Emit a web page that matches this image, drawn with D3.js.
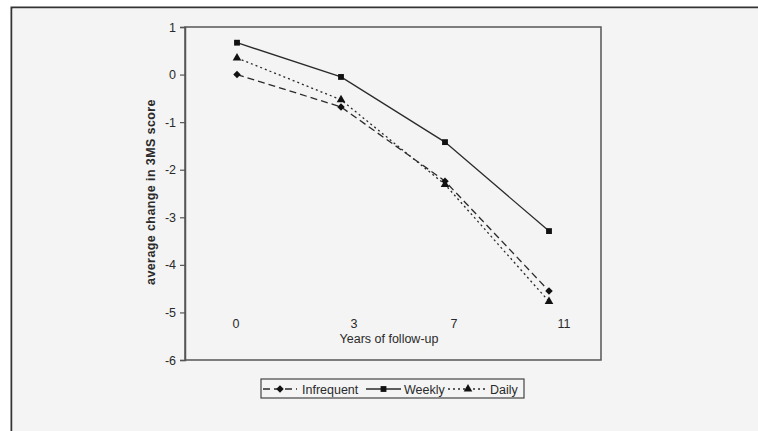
<!DOCTYPE html>
<html>
<head>
<meta charset="utf-8">
<script src="https://cdn.jsdelivr.net/npm/d3@7"></script>
<style>
    html, body { margin: 0; padding: 0; background: #ffffff; overflow: hidden; }
    svg { display: block; overflow: hidden; font-family: "Liberation Sans", Arial, sans-serif; }
</style>
</head>
<body>
<div id="chart"></div>
<script>
/*
 * Chart data.
 */
var periods = ['0', '3', '7', '11'];
var infrequent = [0.0, -0.68, -2.24, -4.55];
var weekly = [0.67, -0.05, -1.42, -3.29];
var daily = [0.35, -0.53, -2.31, -4.77];
var yTicks = [1, 0, -1, -2, -3, -4, -5, -6];

/*
 * Series styles. Excel's diamond is a square turned by 45 degrees.
 */
var series = [
    {name: 'Infrequent', values: infrequent, dash: '7,4', marker: d3.symbolSquare, size: 28, rotate: 45},
    {name: 'Weekly', values: weekly, dash: null, marker: d3.symbolSquare, size: 34, rotate: 0},
    {name: 'Daily', values: daily, dash: '2,3', marker: d3.symbolTriangle, size: 32, rotate: 0}
];

/*
 * Horizontal nudge of each year label, as placed in the original figure.
 */
var labelShift = [-1, 13, 9, 15];

var width = 758, height = 431;
var plot = {left: 185, right: 601, top: 27, bottom: 360};
var ink = '#2a2a2a';

var svg = d3.select('#chart').append('svg')
    .attr('width', width)
    .attr('height', height);

/*
 * Page frame (only its top and left edges fall inside the picture).
 */
svg.append('path')
    .attr('d', 'M11.5,' + height + 'V7.5H' + width)
    .attr('fill', 'none')
    .attr('stroke', '#333')
    .attr('stroke-width', 2);

svg.append('rect')
    .attr('x', 12.5).attr('y', 8.5)
    .attr('width', width).attr('height', height)
    .attr('fill', '#f4f4f4');

/*
 * Scales.
 */
var x = d3.scaleBand()
    .domain(periods)
    .range([plot.left, plot.right]);

var y = d3.scaleLinear()
    .domain([-6, 1])
    .range([plot.bottom, plot.top]);

/*
 * Plot area border.
 */
svg.append('rect')
    .attr('x', plot.left).attr('y', plot.top)
    .attr('width', plot.right - plot.left)
    .attr('height', plot.bottom - plot.top)
    .attr('fill', 'none')
    .attr('stroke', '#555')
    .attr('stroke-width', 1.5);

/*
 * Y axis.
 */
var yAxis = svg.append('g')
    .attr('transform', 'translate(' + plot.left + ',0)')
    .call(d3.axisLeft(y).tickValues(yTicks).tickSize(5).tickPadding(4).tickFormat(d => String(d)));

yAxis.select('.domain').attr('stroke', '#555').attr('stroke-width', 1.5);
yAxis.selectAll('.tick line').attr('stroke', '#555').attr('stroke-width', 1.2);
yAxis.selectAll('.tick text')
    .attr('fill', ink)
    .style('font-size', '12.5px')
    .style('font-family', '"Liberation Sans", Arial, sans-serif');

/*
 * Year labels inside the plot.
 */
svg.append('g').selectAll('text')
    .data(periods)
    .join('text')
    .attr('x', (d, i) => x(d) + x.bandwidth() / 2 + labelShift[i])
    .attr('y', 328)
    .attr('text-anchor', 'middle')
    .attr('fill', ink)
    .style('font-size', '12.5px')
    .text(d => d);

/*
 * Axis titles.
 */
svg.append('text')
    .attr('x', 389).attr('y', 343)
    .attr('text-anchor', 'middle')
    .attr('fill', ink)
    .style('font-size', '12.5px')
    .text('Years of follow-up');

svg.append('text')
    .attr('transform', 'translate(155,192) rotate(-90)')
    .attr('text-anchor', 'middle')
    .attr('fill', ink)
    .style('font-size', '12.5px')
    .style('font-weight', 'bold')
    .style('letter-spacing', '0.4px')
    .text('average change in 3MS score');

/*
 * Lines and markers.
 */
var cx = (d, i) => x(periods[i]) + x.bandwidth() / 2;
var line = d3.line()
    .x(cx)
    .y(d => y(d));

series.forEach(function(s) {
    svg.append('path')
        .datum(s.values)
        .attr('d', line)
        .attr('fill', 'none')
        .attr('stroke', ink)
        .attr('stroke-width', 1.3)
        .attr('stroke-dasharray', s.dash);

    svg.append('g').selectAll('path')
        .data(s.values)
        .join('path')
        .attr('transform', (d, i) => 'translate(' + cx(d, i) + ',' + y(d) + ') rotate(' + s.rotate + ')')
        .attr('d', d3.symbol().type(s.marker).size(s.size))
        .attr('fill', '#111');
});

/*
 * Legend.
 */
var legend = svg.append('g');

legend.append('rect')
    .attr('x', 261).attr('y', 379)
    .attr('width', 263).attr('height', 19)
    .attr('fill', '#f4f4f4')
    .attr('stroke', '#444')
    .attr('stroke-width', 1.2);

var legendItems = [
    {x0: 263, x1: 297, tx: 302},
    {x0: 366, x1: 401, tx: 404},
    {x0: 448, x1: 488, tx: 490}
];

series.forEach(function(s, i) {
    var item = legendItems[i];
    legend.append('line')
        .attr('x1', item.x0).attr('x2', item.x1)
        .attr('y1', 389).attr('y2', 389)
        .attr('stroke', ink)
        .attr('stroke-width', 1.5)
        .attr('stroke-dasharray', s.dash);
    legend.append('path')
        .attr('transform', 'translate(' + ((item.x0 + item.x1) / 2) + ',389) rotate(' + s.rotate + ')')
        .attr('d', d3.symbol().type(s.marker).size(s.size))
        .attr('fill', '#111');
    legend.append('text')
        .attr('x', item.tx).attr('y', 393.5)
        .attr('fill', ink)
        .style('font-size', '12.5px')
        .text(s.name);
});
</script>
</body>
</html>
